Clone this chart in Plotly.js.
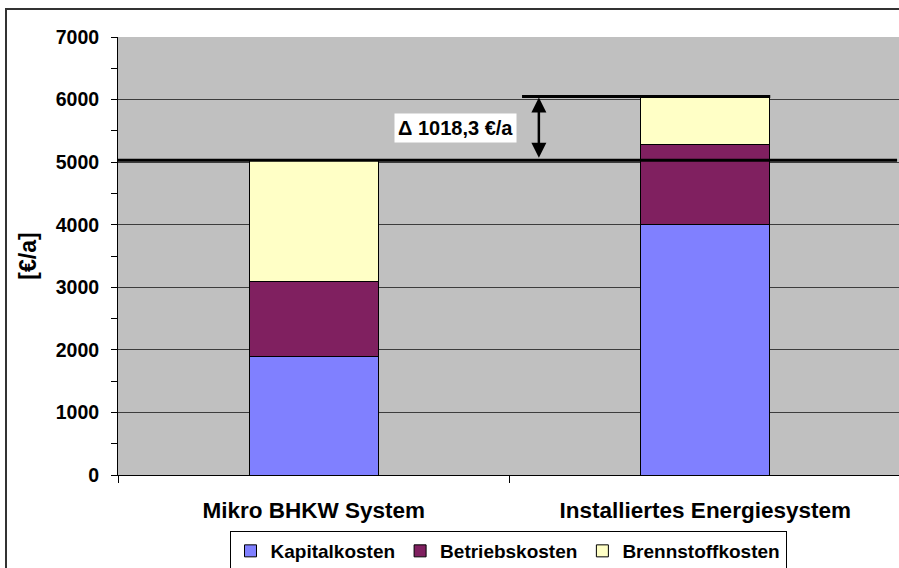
<!DOCTYPE html>
<html>
<head>
<meta charset="utf-8">
<script src="https://cdn.plot.ly/plotly-3.0.1.min.js"></script>
<style>
  html, body { margin: 0; padding: 0; width: 899px; height: 568px; overflow: hidden; background: #fff; }
  #wrap { position: relative; width: 899px; height: 568px; overflow: hidden; }
  #chart { position: absolute; left: 0; top: 0; }
  #frame { position: absolute; left: 5px; top: 8px; width: 1000px; height: 1000px; border: 2px solid #333; pointer-events: none; }
</style>
</head>
<body>
<div id="wrap">
  <div id="chart"></div>
  <div id="frame"></div>
</div>
<script>
// ---- data ----
const categories = ["Mikro BHKW System", "Installiertes Energiesystem"];
const kapitalkosten = [1900, 4010];
const betriebskosten = [1190, 1280];
const brennstoffkosten = [1940, 758.3];
const seriesNames = ["Kapitalkosten", "Betriebskosten", "Brennstoffkosten"];
const yTicks = [0, 1000, 2000, 3000, 4000, 5000, 6000, 7000];

const colors = ["#8080FF", "#802060", "#FFFFC6"];
const FONT = "Arial, 'Liberation Sans', sans-serif";

const totals = categories.map((c, i) => kapitalkosten[i] + betriebskosten[i] + brennstoffkosten[i]);
const delta = totals[1] - totals[0];
const deltaText = "\u0394 " + delta.toFixed(1).replace(".", ",") + " \u20AC/a";

const seriesVals = [kapitalkosten, betriebskosten, brennstoffkosten];
const traces = seriesNames.map((n, k) => ({
  type: "bar",
  name: n,
  x: categories,
  y: seriesVals[k],
  marker: { color: colors[k], line: { color: "#000", width: 1 } },
  hoverinfo: "skip"
}));

const layout = {
  width: 910,
  height: 568,
  margin: { l: 118, r: 9, t: 37, b: 93, autoexpand: false },
  paper_bgcolor: "rgba(0,0,0,0)",
  plot_bgcolor: "#C0C0C0",
  barmode: "stack",
  bargap: 0.67,
  font: { family: FONT, color: "#000", weight: 700 },
  showlegend: true,
  legend: {
    orientation: "h",
    xref: "container", yref: "container",
    x: 508 / 910, xanchor: "center",
    y: 17 / 568, yanchor: "middle",
    bgcolor: "#fff",
    bordercolor: "#000",
    borderwidth: 1,
    tracegroupgap: 0,
    font: { family: FONT, size: 19, weight: 700, color: "#000" },
    traceorder: "normal",
    itemclick: false
  },
  xaxis: {
    type: "category",
    range: [-0.5, 1.5],
    automargin: false,
    tickson: "boundaries",
    ticks: "outside",
    ticklen: 7,
    tickcolor: "#000",
    showline: true,
    linecolor: "#000",
    linewidth: 1,
    showgrid: false,
    ticklabelstandoff: 15,
    tickfont: { family: FONT, size: 22.5, weight: 700, color: "#000" }
  },
  yaxis: {
    range: [0, 7000],
    automargin: false,
    tickvals: yTicks,
    ticktext: yTicks.map(String),
    ticks: "outside",
    ticklen: 6,
    tickcolor: "#000",
    showline: true,
    linecolor: "#000",
    linewidth: 1,
    showgrid: true,
    gridcolor: "#3c3c3c",
    gridwidth: 1,
    zeroline: false,
    minor: { dtick: 500, ticks: "outside", ticklen: 6, tickcolor: "#000", showgrid: false },
    ticklabelstandoff: 8,
    tickfont: { family: FONT, size: 19.5, weight: 700, color: "#000" },
    title: { text: "[\u20AC/a]", font: { family: FONT, size: 23, weight: 700, color: "#000" }, standoff: 12 }
  },
  shapes: [
    { type: "line", xref: "paper", yref: "y", x0: 0, x1: 0.995, y0: totals[0], y1: totals[0], line: { color: "#000", width: 3 } },
    { type: "line", xref: "paper", yref: "y", x0: 0.516, x1: 0.833, y0: totals[1], y1: totals[1], line: { color: "#000", width: 3 } }
  ],
  annotations: [
    {
      xref: "x", yref: "y", x: 0.575, y: totals[1],
      ax: 0.575, ay: totals[0], axref: "x", ayref: "y",
      showarrow: true, arrowhead: 2, arrowside: "end+start", arrowsize: 1.2, arrowwidth: 2.5, arrowcolor: "#000",
      text: "", standoff: 1, startstandoff: 1
    },
    {
      xref: "x", yref: "y", x: 0.361, y: 5552,
      text: deltaText, showarrow: false,
      bgcolor: "#fff", borderpad: 3,
      font: { family: FONT, size: 20, weight: 700, color: "#000" }
    }
  ]
};

Plotly.newPlot("chart", traces, layout, { displayModeBar: false, staticPlot: true });
</script>
</body>
</html>
